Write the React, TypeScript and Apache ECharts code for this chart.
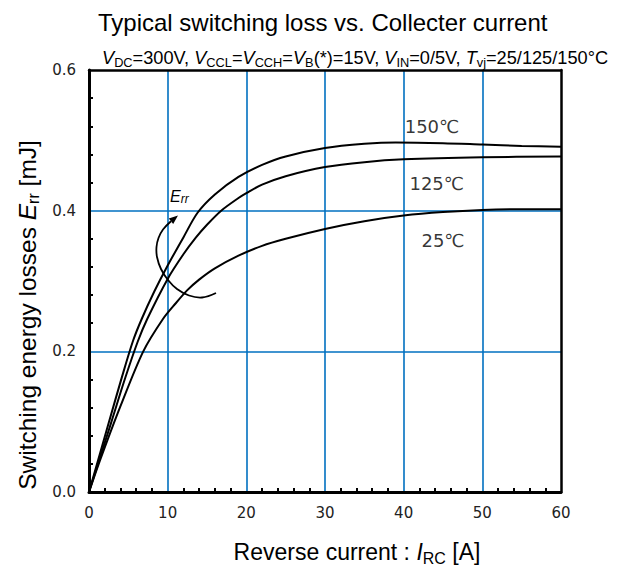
import React, { useEffect, useRef } from "react";
import * as echarts from "echarts";

// ---- data ----
const x150 = [0, 2.5, 4.2, 5.6, 6.7, 8.3, 10, 12, 13.8, 16, 19, 22, 25, 30, 35, 39, 45, 50, 55, 60];
const y150 = [0, 0.098, 0.164, 0.215, 0.246, 0.285, 0.322, 0.362, 0.397, 0.423, 0.448, 0.465, 0.477, 0.489, 0.495, 0.497, 0.496, 0.494, 0.492, 0.491];
const x125 = [0, 2.8, 4.6, 6.2, 7.4, 10, 12, 13.6, 15, 16.8, 19, 20, 22, 25, 30, 35, 40, 50, 60];
const y125 = [0, 0.098, 0.162, 0.214, 0.246, 0.303, 0.338, 0.362, 0.38, 0.4, 0.418, 0.425, 0.437, 0.449, 0.462, 0.469, 0.473, 0.476, 0.477];
const x25 = [0, 1.5, 4, 6.9, 9.4, 11, 12.5, 14, 16, 19, 22, 25, 30, 35, 40, 45, 50, 55, 60];
const y25 = [0, 0.048, 0.122, 0.2, 0.246, 0.268, 0.287, 0.302, 0.318, 0.336, 0.35, 0.36, 0.374, 0.385, 0.393, 0.398, 0.401, 0.402, 0.402];

const tempLabels = ["150℃", "125℃", "25℃"];
const tempLabelX = [43.6, 44.2, 45];
const tempLabelY = [0.519, 0.438, 0.358];

const xTicks = { min: 0, max: 60, interval: 10 };
const yTicks = { min: 0, max: 0.6, interval: 0.2 };

const titleText = "Typical switching loss vs. Collecter current";

const pairs = (xs: number[], ys: number[]) => xs.map((x, i) => [x, ys[i]]);

const SANS = "'Liberation Sans', Arial, sans-serif";
const TICKFONT = "'DejaVu Sans', Verdana, sans-serif";

function subRich(size: number, sub: number, lh: number) {
  return {
    n: { fontFamily: SANS, fontSize: size, fontWeight: "normal", color: "#000", lineHeight: lh },
    i: { fontFamily: SANS, fontSize: size, fontWeight: "normal", fontStyle: "italic", color: "#000", lineHeight: lh },
    s: { fontFamily: SANS, fontSize: sub, fontWeight: "normal", color: "#000", verticalAlign: "bottom", lineHeight: sub + 1 },
  };
}

export default function App() {
  const ref = useRef<HTMLDivElement>(null);
  useEffect(() => {
    document.body.style.margin = "0";
    const chart = echarts.init(ref.current!, null, { renderer: "svg" });
    const lineStyle = { color: "#000", width: 2 };
    const seriesDefs = [
      { name: "150", data: pairs(x150, y150) },
      { name: "125", data: pairs(x125, y125) },
      { name: "25", data: pairs(x25, y25) },
    ];
    const option: any = {
      animation: false,
      backgroundColor: "#fff",
      title: [
        {
          text: titleText,
          left: 93,
          top: 5,
          textStyle: { fontFamily: SANS, fontSize: 24, fontWeight: "normal", color: "#000" },
        },
        {
          text:
            "{i|V}{s|DC}{n|=300V, }{i|V}{s|CCL}{n|=}{i|V}{s|CCH}{n|=}{i|V}{s|B}{n|(*)=15V, }{i|V}{s|IN}{n|=0/5V, }{i|T}{s|vj}{n|=25/125/150°C}",
          left: 97,
          top: 41,
          textStyle: { fontWeight: "normal", rich: subRich(18.2, 12.8, 23) },
        },
      ],
      grid: { left: 89, right: 61, top: 70, bottom: 77, containLabel: false },
      xAxis: [
        {
          type: "value",
          min: xTicks.min,
          max: xTicks.max,
          interval: xTicks.interval,
          axisLine: { show: true, onZero: false, lineStyle: { color: "#000", width: 3 } },
          axisTick: { show: false, inside: true },
          minorTick: { show: true, splitNumber: 5, length: 4, lineStyle: { color: "#000", width: 2 } },
          splitLine: { show: true, showMinLine: false, showMaxLine: false, lineStyle: { color: "#0070C0", width: 1.6 } },
          axisLabel: { fontFamily: TICKFONT, fontSize: 15, color: "#222", margin: 13 },
          name: "{n|Reverse current : }{i|I}{s|RC}{n| [A]}",
          nameLocation: "middle",
          nameGap: 46,
          nameTextStyle: { rich: subRich(23, 16, 28), padding: [0, 0, 0, 64] },
        },
        {
          type: "value",
          position: "top",
          min: xTicks.min,
          max: xTicks.max,
          interval: xTicks.interval,
          axisLine: { show: true, onZero: false, lineStyle: { color: "#000", width: 2.5 } },
          axisTick: { show: false },
          axisLabel: { show: false },
          splitLine: { show: false },
        },
      ],
      yAxis: [
        {
          type: "value",
          min: yTicks.min,
          max: yTicks.max,
          interval: yTicks.interval,
          axisLine: { show: true, onZero: false, lineStyle: { color: "#000", width: 3 } },
          axisTick: { show: false, inside: true },
          minorTick: { show: true, splitNumber: 5, length: 4, lineStyle: { color: "#000", width: 2 } },
          splitLine: { show: true, showMinLine: false, showMaxLine: false, lineStyle: { color: "#0070C0", width: 1.6 } },
          axisLabel: {
            fontFamily: TICKFONT,
            fontSize: 15,
            color: "#222",
            margin: 13,
            formatter: (v: number) => v.toFixed(1),
          },
          name: "{n|Switching energy losses }{i|E}{s|rr}{n| [mJ]}",
          nameLocation: "middle",
          nameRotate: 90,
          nameGap: 44,
          nameTextStyle: { rich: subRich(24.5, 16, 28), padding: [0, 68, 0, 0] },
        },
        {
          type: "value",
          position: "right",
          min: yTicks.min,
          max: yTicks.max,
          interval: yTicks.interval,
          axisLine: { show: true, onZero: false, lineStyle: { color: "#000", width: 2.5 } },
          axisTick: { show: false },
          axisLabel: { show: false },
          splitLine: { show: false },
        },
      ],
      series: [
        ...seriesDefs.map((s) => ({
          type: "line",
          name: s.name,
          data: s.data,
          showSymbol: false,
          symbol: "none",
          smooth: 0.3,
          lineStyle,
          z: 3,
        })),
        {
          type: "scatter",
          name: "labels",
          symbolSize: 1,
          itemStyle: { color: "rgba(0,0,0,0)" },
          data: tempLabels.map((t, i) => ({ value: [tempLabelX[i], tempLabelY[i]], name: t })),
          label: {
            show: true,
            position: "inside",
            formatter: (p: any) => p.name,
            fontFamily: TICKFONT,
            fontSize: 18,
            color: "#000",
          },
          silent: true,
        },
      ],
      graphic: [
        {
          type: "polyline",
          shape: {
            points: [
              [216, 293],
              [202, 297.5],
              [189, 295.5],
              [177, 289],
              [168, 280],
              [161, 269],
              [157, 257],
              [156.5, 247],
              [158.5, 238],
              [163, 229.5],
              [171, 221.2],
            ],
            smooth: 0.4,
          },
          style: { stroke: "#000", lineWidth: 1.8, fill: null },
          z: 10,
        },
        {
          type: "polygon",
          shape: { points: [[178, 215.5], [173.2, 223.9], [168.8, 218.5]] },
          style: { fill: "#000" },
          z: 10,
        },
        {
          type: "text",
          left: 170,
          top: 188,
          style: {
            text: "{e|E}{s|rr}",
            rich: {
              e: { fontFamily: SANS, fontSize: 16, fontStyle: "italic", color: "#000", lineHeight: 18 },
              s: { fontFamily: SANS, fontSize: 12, fontStyle: "italic", color: "#000", verticalAlign: "bottom", lineHeight: 13 },
            },
          },
          z: 10,
        },
      ],
    };
    chart.setOption(option);
    return () => chart.dispose();
  }, []);
  return <div ref={ref} style={{ width: 622, height: 571 }} />;
}
